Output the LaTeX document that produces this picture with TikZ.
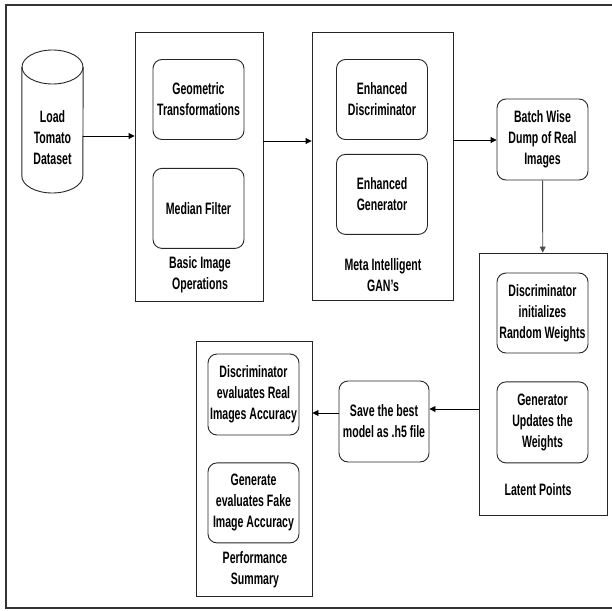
\documentclass[tikz,border=0pt]{standalone}
\usepackage{fontspec}
\setmainfont{Liberation Sans}[FakeStretch=0.64]
\usepackage{tikz}
\usetikzlibrary{positioning,arrows.meta}

\begin{document}
\begin{tikzpicture}[x=1pt, y=-1pt, >={Triangle[length=6pt,width=6pt]},
  every node/.style={align=center, inner sep=1pt, font=\fontsize{16.5}{21}\selectfont\bfseries},
  stage/.style={draw, rounded corners=9pt, line width=0.9pt, draw=black!85, minimum width=91pt, minimum height=80pt},
  group/.style={draw, line width=0.9pt, draw=black!85}]
\useasboundingbox (0,0) rectangle (612,610);
\draw[line width=2pt, draw=black!80] (6,5) rectangle (618,608);

\node (data) [minimum width=61pt, minimum height=143pt, inner sep=0pt] at (52.5,121.5) {};
\draw[line width=0.9pt, draw=black!85] (data.west |- 0,67) -- (data.west |- 0,176)
  arc[start angle=180, end angle=0, x radius=30.5, y radius=17] -- (data.east |- 0,67);
\draw[line width=0.9pt, draw=black!85] (data.north |- 0,67) ellipse[x radius=30.5, y radius=17];
\node (datatext) at (52.5,138) {Load\\Tomato\\Dataset};

\node (ops) [group, minimum width=128pt, minimum height=269pt] at (199,166.5) {};
\node (geo) [stage] at (198.5,99.5) {Geometric\\Transformations};
\node (median) [stage, below=28pt of geo] {Median Filter};
\node (opslabel) at (200,274.5) {Basic Image\\Operations};

\node (gan) [group, minimum width=141pt, minimum height=268pt] at (382.5,166) {};
\node (disc) [stage] at (382,99.5) {Enhanced\\Discriminator};
\node (gen) [stage, below=14pt of disc] {Enhanced\\Generator};
\node (ganlabel) at (383,275) {Meta Intelligent\\GAN's};

\node (batch) [stage, minimum height=81pt] at (542.5,139.5) {Batch Wise\\Dump of Real\\Images};

\node (latent) [group, minimum width=128pt, minimum height=262pt] at (543,384) {};
\node (init) [stage] at (542.5,313) {Discriminator\\initializes\\Random Weights};
\node (update) [stage, minimum height=81pt, below=28pt of init] {Generator\\Updates the\\Weights};
\node (latentlabel) at (538,490) {Latent Points};

\node (save) [stage, minimum width=90pt, minimum height=81pt] at (384,421.5) {Save the best\\model as .h5 file};

\node (perf) [group, minimum width=116pt, minimum height=255pt] at (254,468.5) {};
\node (real) [stage, minimum height=81pt] at (253.5,394.5) {Discriminator\\evaluates Real\\Images Accuracy};
\node (fake) [stage, below=27pt of real] {Generate\\evaluates Fake\\Image Accuracy};
\node (perflabel) at (255,569.5) {Performance\\Summary};

\draw[->, line width=0.9pt] (data.east |- 0,136) -- (ops.west |- 0,136);
\draw[->, line width=0.9pt] (ops.east |- 0,141) -- (gan.west |- 0,141);
\draw[->, line width=0.9pt] (gan.east |- 0,140) -- (batch.west |- 0,140);
\draw[->, line width=0.9pt, draw=black!70] (batch) -- (latent);
\draw[->, line width=0.9pt] (latent.west |- 0,409) -- (save.east |- 0,409);
\draw[->, line width=0.9pt] (save.west |- 0,413) -- (perf.east |- 0,413);
\end{tikzpicture}
\end{document}
